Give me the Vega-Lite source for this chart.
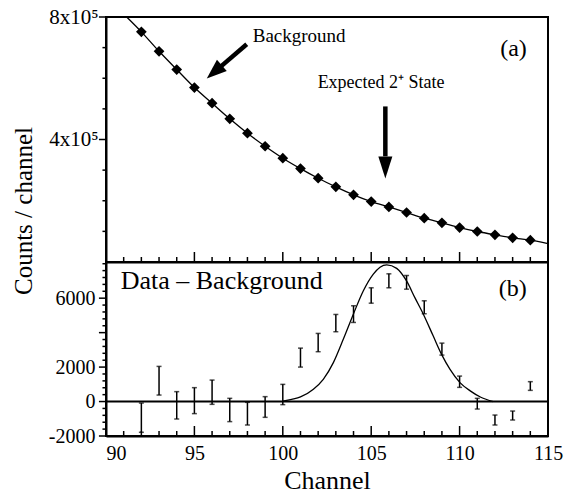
{
  "$schema": "https://vega.github.io/schema/vega-lite/v6.json",
  "padding": {"left": 10, "top": 5, "right": 5, "bottom": 5},
  "background": "white",
  "spacing": 0,
  "bounds": "flush",
  "config": {
    "font": "Liberation Serif",
    "view": {"stroke": "black", "strokeWidth": 2},
    "axis": {
      "domainColor": "black", "domainWidth": 2, "ticks": false,
      "labelColor": "black", "labelFont": "Liberation Serif", "labelFontSize": 20,
      "titleFont": "Liberation Serif", "titleColor": "black", "titleFontWeight": "normal",
      "grid": false, "labelFlush": false, "labelOverlap": false
    }
  },
  "datasets": {
    "bg": [
      {"channel": 92, "counts": 751600}, {"channel": 93, "counts": 688000}, {"channel": 94, "counts": 628500},
      {"channel": 95, "counts": 569700}, {"channel": 96, "counts": 518500}, {"channel": 97, "counts": 467500},
      {"channel": 98, "counts": 420500}, {"channel": 99, "counts": 378000}, {"channel": 100, "counts": 339000},
      {"channel": 101, "counts": 305000}, {"channel": 102, "counts": 273600}, {"channel": 103, "counts": 245500},
      {"channel": 104, "counts": 219400}, {"channel": 105, "counts": 197500}, {"channel": 106, "counts": 180000},
      {"channel": 107, "counts": 161600}, {"channel": 108, "counts": 143000}, {"channel": 109, "counts": 128000},
      {"channel": 110, "counts": 112600}, {"channel": 111, "counts": 99600}, {"channel": 112, "counts": 88800},
      {"channel": 113, "counts": 79000}, {"channel": 114, "counts": 71200}
    ],
    "bgcurve": [
      {"channel": 91.17, "counts": 800000}, {"channel": 92, "counts": 751600}, {"channel": 93, "counts": 688000},
      {"channel": 94, "counts": 628500}, {"channel": 95, "counts": 569700}, {"channel": 96, "counts": 518500},
      {"channel": 97, "counts": 467500}, {"channel": 98, "counts": 420500}, {"channel": 99, "counts": 378000},
      {"channel": 100, "counts": 339000}, {"channel": 101, "counts": 305000}, {"channel": 102, "counts": 273600},
      {"channel": 103, "counts": 245500}, {"channel": 104, "counts": 219400}, {"channel": 105, "counts": 197500},
      {"channel": 106, "counts": 180000}, {"channel": 107, "counts": 161600}, {"channel": 108, "counts": 143000},
      {"channel": 109, "counts": 128000}, {"channel": 110, "counts": 112600}, {"channel": 111, "counts": 99600},
      {"channel": 112, "counts": 88800}, {"channel": 113, "counts": 79000}, {"channel": 114, "counts": 71200},
      {"channel": 115, "counts": 60000}
    ],
    "arrows": [
      {"name": "bg", "channel": 97.96, "counts": 711000, "channel2": 96.47, "counts2": 637000},
      {"name": "exp", "channel": 105.8, "counts": 508000, "channel2": 105.8, "counts2": 345000}
    ],
    "heads": [
      {"name": "bg", "channel": 95.7, "counts": 599000},
      {"name": "exp", "channel": 105.8, "counts": 273000}
    ],
    "toplabels": [
      {"label": "Background", "channel": 98.3, "counts": 739000},
      {"label": "Expected 2⁺ State", "channel": 101.97, "counts": 586000},
      {"label": "(a)", "channel": 113.8, "counts": 695000}
    ],
    "toptickx": [
      {"channel": 90, "counts": 0, "counts2": 32650}, {"channel": 91, "counts": 0, "counts2": 16300},
      {"channel": 92, "counts": 0, "counts2": 16300}, {"channel": 93, "counts": 0, "counts2": 16300},
      {"channel": 94, "counts": 0, "counts2": 16300}, {"channel": 95, "counts": 0, "counts2": 32650},
      {"channel": 96, "counts": 0, "counts2": 16300}, {"channel": 97, "counts": 0, "counts2": 16300},
      {"channel": 98, "counts": 0, "counts2": 16300}, {"channel": 99, "counts": 0, "counts2": 16300},
      {"channel": 100, "counts": 0, "counts2": 32650}, {"channel": 101, "counts": 0, "counts2": 16300},
      {"channel": 102, "counts": 0, "counts2": 16300}, {"channel": 103, "counts": 0, "counts2": 16300},
      {"channel": 104, "counts": 0, "counts2": 16300}, {"channel": 105, "counts": 0, "counts2": 32650},
      {"channel": 106, "counts": 0, "counts2": 16300}, {"channel": 107, "counts": 0, "counts2": 16300},
      {"channel": 108, "counts": 0, "counts2": 16300}, {"channel": 109, "counts": 0, "counts2": 16300},
      {"channel": 110, "counts": 0, "counts2": 32650}, {"channel": 111, "counts": 0, "counts2": 16300},
      {"channel": 112, "counts": 0, "counts2": 16300}, {"channel": 113, "counts": 0, "counts2": 16300},
      {"channel": 114, "counts": 0, "counts2": 16300}, {"channel": 115, "counts": 0, "counts2": 32650}
    ],
    "toptícky": [],
    "topticky": [
      {"channel": 90, "channel2": 89.6, "counts": 800000}, {"channel": 90, "channel2": 89.8, "counts": 700000},
      {"channel": 90, "channel2": 89.8, "counts": 600000}, {"channel": 90, "channel2": 89.8, "counts": 500000},
      {"channel": 90, "channel2": 89.6, "counts": 400000}, {"channel": 90, "channel2": 89.8, "counts": 300000},
      {"channel": 90, "channel2": 89.8, "counts": 200000}, {"channel": 90, "channel2": 89.8, "counts": 100000}
    ],
    "bottickx": [
      {"channel": 90, "value": -2000, "value2": -1420}, {"channel": 91, "value": -2000, "value2": -1710},
      {"channel": 92, "value": -2000, "value2": -1710}, {"channel": 93, "value": -2000, "value2": -1710},
      {"channel": 94, "value": -2000, "value2": -1710}, {"channel": 95, "value": -2000, "value2": -1420},
      {"channel": 96, "value": -2000, "value2": -1710}, {"channel": 97, "value": -2000, "value2": -1710},
      {"channel": 98, "value": -2000, "value2": -1710}, {"channel": 99, "value": -2000, "value2": -1710},
      {"channel": 100, "value": -2000, "value2": -1420}, {"channel": 101, "value": -2000, "value2": -1710},
      {"channel": 102, "value": -2000, "value2": -1710}, {"channel": 103, "value": -2000, "value2": -1710},
      {"channel": 104, "value": -2000, "value2": -1710}, {"channel": 105, "value": -2000, "value2": -1420},
      {"channel": 106, "value": -2000, "value2": -1710}, {"channel": 107, "value": -2000, "value2": -1710},
      {"channel": 108, "value": -2000, "value2": -1710}, {"channel": 109, "value": -2000, "value2": -1710},
      {"channel": 110, "value": -2000, "value2": -1420}, {"channel": 111, "value": -2000, "value2": -1710},
      {"channel": 112, "value": -2000, "value2": -1710}, {"channel": 113, "value": -2000, "value2": -1710},
      {"channel": 114, "value": -2000, "value2": -1710}, {"channel": 115, "value": -2000, "value2": -1420}
    ],
    "botticky": [
      {"channel": 90, "channel2": 89.6, "value": -2000}, {"channel": 90, "channel2": 89.8, "value": -1600},
      {"channel": 90, "channel2": 89.8, "value": -1200}, {"channel": 90, "channel2": 89.8, "value": -800},
      {"channel": 90, "channel2": 89.8, "value": -400}, {"channel": 90, "channel2": 89.6, "value": 0},
      {"channel": 90, "channel2": 89.8, "value": 400}, {"channel": 90, "channel2": 89.8, "value": 800},
      {"channel": 90, "channel2": 89.8, "value": 1200}, {"channel": 90, "channel2": 89.8, "value": 1600},
      {"channel": 90, "channel2": 89.6, "value": 2000}, {"channel": 90, "channel2": 89.8, "value": 2400},
      {"channel": 90, "channel2": 89.8, "value": 2800}, {"channel": 90, "channel2": 89.8, "value": 3200},
      {"channel": 90, "channel2": 89.8, "value": 3600}, {"channel": 90, "channel2": 89.6, "value": 4000},
      {"channel": 90, "channel2": 89.8, "value": 4400}, {"channel": 90, "channel2": 89.8, "value": 4800},
      {"channel": 90, "channel2": 89.8, "value": 5200}, {"channel": 90, "channel2": 89.8, "value": 5600},
      {"channel": 90, "channel2": 89.6, "value": 6000}, {"channel": 90, "channel2": 89.8, "value": 6400},
      {"channel": 90, "channel2": 89.8, "value": 6800}, {"channel": 90, "channel2": 89.8, "value": 7200},
      {"channel": 90, "channel2": 89.8, "value": 7600}, {"channel": 90, "channel2": 89.8, "value": 8000}
    ],
    "zero": [{"level": 0}],
    "diff": [
      {"channel": 92, "low": -1785, "high": -87}, {"channel": 93, "low": 377, "high": 2040},
      {"channel": 94, "low": -1014, "high": 574}, {"channel": 95, "low": -701, "high": 806},
      {"channel": 96, "low": -162, "high": 1246}, {"channel": 97, "low": -1165, "high": 186},
      {"channel": 98, "low": -1362, "high": -46}, {"channel": 99, "low": -916, "high": 284},
      {"channel": 100, "low": -180, "high": 997}, {"channel": 101, "low": 2000, "high": 3101},
      {"channel": 102, "low": 2893, "high": 3954}, {"channel": 103, "low": 4052, "high": 5055},
      {"channel": 104, "low": 4591, "high": 5559}, {"channel": 105, "low": 5710, "high": 6603},
      {"channel": 106, "low": 6603, "high": 7414}, {"channel": 107, "low": 6522, "high": 7316},
      {"channel": 108, "low": 5096, "high": 5849}, {"channel": 109, "low": 2696, "high": 3391},
      {"channel": 110, "low": 823, "high": 1478}, {"channel": 111, "low": -435, "high": 186},
      {"channel": 112, "low": -1362, "high": -783}, {"channel": 113, "low": -1072, "high": -551},
      {"channel": 114, "low": 649, "high": 1154}
    ],
    "gauss": [
      {"channel": 100.0, "value": 20}, {"channel": 100.5, "value": 130}, {"channel": 101.0, "value": 270},
      {"channel": 101.73, "value": 715}, {"channel": 102.29, "value": 1290}, {"channel": 102.86, "value": 2260},
      {"channel": 103.42, "value": 3610}, {"channel": 103.99, "value": 5070}, {"channel": 104.55, "value": 6420},
      {"channel": 105.12, "value": 7400}, {"channel": 105.5, "value": 7800}, {"channel": 105.88, "value": 7936},
      {"channel": 106.44, "value": 7730}, {"channel": 107.0, "value": 7000}, {"channel": 107.47, "value": 6030},
      {"channel": 107.95, "value": 5070}, {"channel": 108.51, "value": 3800}, {"channel": 108.98, "value": 2740},
      {"channel": 109.46, "value": 1870}, {"channel": 110.02, "value": 1100}, {"channel": 110.6, "value": 620},
      {"channel": 111.2, "value": 250}, {"channel": 111.9, "value": 0}
    ],
    "botlabels": [
      {"label": "Data – Background", "channel": 90.83, "value": 7009},
      {"label": "(b)", "channel": 113.8, "value": 6522}
    ]
  },
  "vconcat": [
    {
      "width": 442,
      "height": 245,
      "layer": [
        {
          "data": {"name": "bgcurve"},
          "mark": {"type": "line", "color": "black", "strokeWidth": 1.3, "interpolate": "monotone"},
          "encoding": {
            "x": {
              "field": "channel", "type": "quantitative",
              "scale": {"domain": [90, 115], "nice": false, "zero": false},
              "axis": {"orient": "bottom", "title": null, "labels": false, "ticks": false, "values": [90, 95, 100, 105, 110, 115]}
            },
            "y": {
              "field": "counts", "type": "quantitative",
              "scale": {"domain": [0, 800000], "nice": false, "zero": false},
              "axis": {
                "values": [400000, 800000],
                "labelExpr": "datum.value === 800000 ? '8x10⁵' : '4x10⁵'",
                "ticks": false, "labelOverlap": false, "labelFontSize": 21,
                "labelPadding": 8,
                "title": "Counts / channel", "titleFontSize": 25,
                "titleX": -83, "titleY": 193.5, "titleAngle": -90,
                "titleAlign": "center", "titleBaseline": "middle"
              }
            }
          }
        },
        {
          "data": {"name": "toptickx"},
          "mark": {"type": "rule", "color": "black", "strokeWidth": 1.5, "opacity": 1, "clip": false},
          "encoding": {
            "x": {"field": "channel", "type": "quantitative"},
            "y": {"field": "counts", "type": "quantitative"},
            "y2": {"field": "counts2"}
          }
        },
        {
          "data": {"name": "topticky"},
          "mark": {"type": "rule", "color": "black", "strokeWidth": 1.5, "opacity": 1, "clip": false},
          "encoding": {
            "x": {"field": "channel", "type": "quantitative"},
            "x2": {"field": "channel2"},
            "y": {"field": "counts", "type": "quantitative"}
          }
        },
        {
          "data": {"name": "bg"},
          "mark": {"type": "point", "shape": "diamond", "filled": true, "color": "black", "opacity": 1, "size": 115},
          "encoding": {
            "x": {"field": "channel", "type": "quantitative"},
            "y": {"field": "counts", "type": "quantitative"}
          }
        },
        {
          "data": {"name": "arrows"},
          "mark": {"type": "rule", "color": "black", "strokeWidth": 4.5, "strokeCap": "butt"},
          "encoding": {
            "x": {"field": "channel", "type": "quantitative"},
            "y": {"field": "counts", "type": "quantitative"},
            "x2": {"field": "channel2"},
            "y2": {"field": "counts2"}
          }
        },
        {
          "data": {"name": "heads"},
          "transform": [{"filter": "datum.name === 'bg'"}],
          "mark": {"type": "point", "shape": "M0,0L0.75,2L-0.75,2Z", "filled": true, "color": "black", "opacity": 1, "size": 400, "angle": 229},
          "encoding": {
            "x": {"field": "channel", "type": "quantitative"},
            "y": {"field": "counts", "type": "quantitative"}
          }
        },
        {
          "data": {"name": "heads"},
          "transform": [{"filter": "datum.name === 'exp'"}],
          "mark": {"type": "point", "shape": "M0,0L0.7,2.2L-0.7,2.2Z", "filled": true, "color": "black", "opacity": 1, "size": 400, "angle": 180},
          "encoding": {
            "x": {"field": "channel", "type": "quantitative"},
            "y": {"field": "counts", "type": "quantitative"}
          }
        },
        {
          "data": {"name": "toplabels"},
          "transform": [{"filter": "datum.label === 'Background'"}],
          "mark": {"type": "text", "align": "left", "baseline": "middle", "fontSize": 19, "font": "Liberation Serif", "color": "black"},
          "encoding": {
            "x": {"field": "channel", "type": "quantitative"},
            "y": {"field": "counts", "type": "quantitative"},
            "text": {"field": "label"}
          }
        },
        {
          "data": {"name": "toplabels"},
          "transform": [{"filter": "datum.label === 'Expected 2⁺ State'"}],
          "mark": {"type": "text", "align": "left", "baseline": "middle", "fontSize": 18, "font": "Liberation Serif", "color": "black"},
          "encoding": {
            "x": {"field": "channel", "type": "quantitative"},
            "y": {"field": "counts", "type": "quantitative"},
            "text": {"field": "label"}
          }
        },
        {
          "data": {"name": "toplabels"},
          "transform": [{"filter": "datum.label === '(a)'"}],
          "mark": {"type": "text", "align": "right", "baseline": "middle", "fontSize": 24, "font": "Liberation Serif", "color": "black"},
          "encoding": {
            "x": {"field": "channel", "type": "quantitative"},
            "y": {"field": "counts", "type": "quantitative"},
            "text": {"field": "label"}
          }
        }
      ]
    },
    {
      "width": 442,
      "height": 174,
      "layer": [
        {
          "data": {"name": "diff"},
          "mark": {"type": "errorbar", "ticks": {"size": 5}, "color": "black", "thickness": 1.5},
          "encoding": {
            "x": {
              "field": "channel", "type": "quantitative",
              "scale": {"domain": [90, 115], "nice": false, "zero": false},
              "axis": {
                "values": [90, 95, 100, 105, 110, 115],
                "ticks": false, "labelOverlap": false,
                "labelPadding": 7,
                "labelAlign": {"condition": {"test": "datum.value === 90", "value": "left"}, "value": "center"},
                "title": "Channel", "titleFontSize": 26, "titlePadding": 4
              }
            },
            "y": {
              "field": "low", "type": "quantitative",
              "scale": {"domain": [-2000, 8100], "nice": false, "zero": false},
              "axis": {
                "values": [-2000, 0, 2000, 6000],
                "labelExpr": "toString(datum.value)",
                "ticks": false, "labelOverlap": false,
                "labelPadding": 11,
                "title": null
              }
            },
            "y2": {"field": "high"}
          }
        },
        {
          "data": {"name": "bottickx"},
          "mark": {"type": "rule", "color": "black", "strokeWidth": 1.5, "opacity": 1, "clip": false},
          "encoding": {
            "x": {"field": "channel", "type": "quantitative"},
            "y": {"field": "value", "type": "quantitative"},
            "y2": {"field": "value2"}
          }
        },
        {
          "data": {"name": "botticky"},
          "mark": {"type": "rule", "color": "black", "strokeWidth": 1.5, "opacity": 1, "clip": false},
          "encoding": {
            "x": {"field": "channel", "type": "quantitative"},
            "x2": {"field": "channel2"},
            "y": {"field": "value", "type": "quantitative"}
          }
        },
        {
          "data": {"name": "zero"},
          "mark": {"type": "rule", "color": "black", "strokeWidth": 2},
          "encoding": {"y": {"field": "level", "type": "quantitative"}}
        },
        {
          "data": {"name": "gauss"},
          "mark": {"type": "line", "color": "black", "strokeWidth": 1.3, "interpolate": "monotone"},
          "encoding": {
            "x": {"field": "channel", "type": "quantitative"},
            "y": {"field": "value", "type": "quantitative"}
          }
        },
        {
          "data": {"name": "botlabels"},
          "transform": [{"filter": "datum.label === '(b)'"}],
          "mark": {"type": "text", "align": "right", "baseline": "middle", "fontSize": 24, "font": "Liberation Serif", "color": "black"},
          "encoding": {
            "x": {"field": "channel", "type": "quantitative"},
            "y": {"field": "value", "type": "quantitative"},
            "text": {"field": "label"}
          }
        },
        {
          "data": {"name": "botlabels"},
          "transform": [{"filter": "datum.label === 'Data – Background'"}],
          "mark": {"type": "text", "align": "left", "baseline": "middle", "fontSize": 26, "font": "Liberation Serif", "color": "black"},
          "encoding": {
            "x": {"field": "channel", "type": "quantitative"},
            "y": {"field": "value", "type": "quantitative"},
            "text": {"field": "label"}
          }
        }
      ]
    }
  ]
}
